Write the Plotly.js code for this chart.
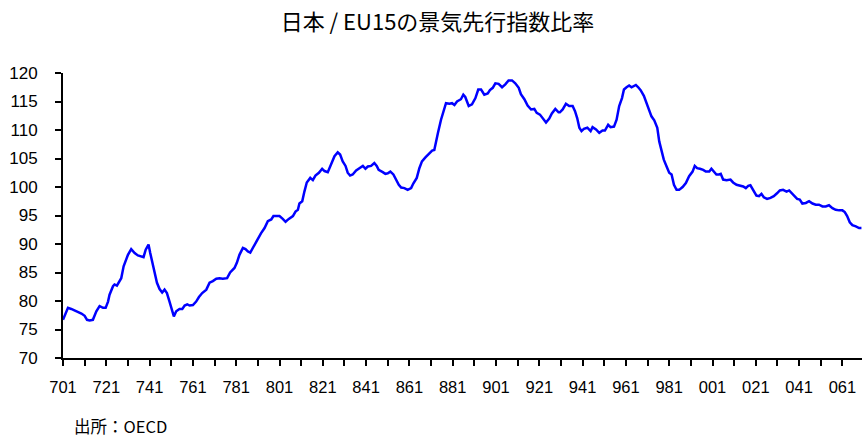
<!DOCTYPE html>
<html>
<head>
<meta charset="utf-8">
<script src="https://cdn.plot.ly/plotly-3.0.1.min.js"></script>
<style>
html,body{margin:0;padding:0;background:#fff;}
#chart{width:862px;height:438px;}
</style>
</head>
<body>
<div id="chart"></div>
<script>
// 時点（年の小数表示）
var t = [
1970.00,1970.23,1970.38,1970.62,1970.85,1971.00,1971.11,1971.23,1971.38,1971.54,1971.69,1971.85,1971.97,
1972.08,1972.15,1972.31,1972.38,1972.49,1972.62,1972.69,1972.80,1972.92,1973.00,1973.15,1973.31,1973.46,
1973.62,1973.72,1973.82,1973.95,1974.03,1974.12,1974.23,1974.34,1974.46,1974.58,1974.69,1974.80,1974.92,
1975.05,1975.12,1975.23,1975.38,1975.51,1975.62,1975.74,1975.85,1976.00,1976.15,1976.28,1976.43,1976.62,
1976.77,1976.92,1977.08,1977.23,1977.38,1977.58,1977.72,1977.92,1978.03,1978.15,1978.31,1978.43,1978.54,
1978.65,1978.77,1978.92,1979.05,1979.15,1979.31,1979.46,1979.62,1979.72,1979.85,
1980.00,1980.15,1980.28,1980.43,1980.62,1980.74,1980.85,1980.92,1981.05,1981.15,1981.26,1981.42,1981.54,
1981.66,1981.82,1981.97,1982.08,1982.23,1982.38,1982.54,1982.69,1982.80,1982.92,1983.05,1983.15,1983.26,
1983.38,1983.54,1983.69,1983.85,1983.97,1984.08,1984.23,1984.38,1984.49,1984.58,1984.77,1984.89,1985.00,
1985.12,1985.26,1985.38,1985.51,1985.62,1985.77,1985.92,1986.08,1986.18,1986.34,1986.46,1986.58,1986.74,
1986.89,1987.05,1987.15,1987.23,1987.32,1987.46,1987.57,1987.69,1987.85,1987.97,1988.08,1988.20,1988.38,
1988.49,1988.58,1988.74,1988.89,1989.05,1989.18,1989.31,1989.46,1989.62,1989.72,1989.85,1989.97,1990.12,
1990.28,1990.43,1990.58,1990.74,1990.89,1991.05,1991.15,1991.31,1991.46,1991.62,1991.77,1991.88,1992.03,
1992.18,1992.31,1992.46,1992.58,1992.74,1992.89,
1992.95,1993.08,1993.23,1993.38,1993.54,1993.65,1993.75,1993.85,1993.95,1994.06,1994.22,1994.37,1994.46,
1994.62,1994.77,1994.92,1995.03,1995.18,1995.29,1995.45,1995.57,1995.69,1995.82,1995.91,1996.03,1996.15,
1996.26,1996.37,1996.46,1996.57,1996.68,1996.83,1996.95,1997.08,1997.18,1997.31,1997.45,1997.54,1997.65,
1997.75,1997.88,1998.00,1998.11,1998.22,1998.34,1998.46,1998.62,1998.77,1998.92,1999.08,1999.18,1999.29,
1999.42,1999.57,1999.69,1999.85,1999.95,2000.06,2000.18,2000.31,2000.38,2000.49,2000.65,2000.83,2000.95,
2001.11,2001.26,2001.42,2001.54,2001.65,2001.75,2001.88,2002.03,2002.15,2002.26,2002.37,2002.52,2002.68,
2002.83,2002.98,2003.11,2003.26,2003.42,2003.54,2003.65,2003.80,2003.91,2004.03,2004.15,2004.31,2004.46,
2004.62,2004.77,2004.92,2005.08,2005.23,2005.38,2005.54,2005.69,2005.85,2006.00,2006.11,2006.22,2006.34,
2006.46,2006.62,2006.77,2006.88
];
// 日本 / EU15 景気先行指数比率
var ratio = [
76.7,78.8,78.6,78.2,77.8,77.4,76.7,76.6,76.7,78.2,79.1,78.8,78.8,
79.9,81.1,82.6,82.9,82.7,83.5,84.0,86.1,87.3,88.1,89.1,88.4,88.0,
87.8,87.7,89.0,89.9,88.4,87.0,84.9,83.2,82.1,81.5,82.0,81.4,79.9,
78.2,77.3,78.2,78.6,78.6,79.2,79.4,79.2,79.3,79.9,80.7,81.4,82.0,
83.2,83.5,83.9,84.0,83.9,84.0,85.0,85.8,86.7,88.1,89.3,89.1,88.7,
88.5,89.3,90.5,91.1,91.9,92.8,94.0,94.3,94.9,94.9,
94.9,94.4,93.9,94.4,94.9,95.7,96.0,97.1,97.5,99.2,100.8,101.6,101.2,
102.0,102.5,103.2,102.8,102.6,103.9,105.4,106.1,105.7,104.5,103.7,102.5,102.0,
102.2,102.9,103.3,103.7,103.2,103.6,103.7,104.2,103.7,103.0,102.6,102.3,102.4,
102.7,102.2,101.2,100.4,99.9,99.8,99.5,99.8,100.6,101.6,103.3,104.5,105.2,
105.8,106.4,106.5,107.7,109.5,111.8,113.3,114.7,114.6,114.7,114.4,115.0,115.4,
116.2,115.8,114.2,114.5,115.6,117.1,117.1,116.2,116.4,117.0,117.4,118.2,118.1,
117.5,118.0,118.7,118.7,118.2,117.4,116.3,115.4,114.3,113.6,113.7,113.0,112.7,
111.9,111.3,112.0,112.9,113.7,113.1,
113.1,113.6,114.6,114.2,114.2,113.3,112.1,110.4,109.8,110.2,110.4,109.8,110.5,
110.1,109.5,109.9,109.9,110.9,110.5,110.6,111.8,114.2,115.6,117.1,117.5,117.8,
117.5,117.8,117.9,117.5,117.0,116.0,114.7,113.6,112.4,111.7,110.4,108.0,106.3,
104.8,103.6,102.5,102.2,100.4,99.5,99.5,100.0,100.7,101.9,102.7,103.7,103.3,
103.2,103.0,102.7,102.7,103.2,102.7,102.2,102.2,102.3,101.3,101.2,101.3,100.8,
100.4,100.3,100.1,99.8,100.2,100.3,99.4,98.5,98.4,98.8,98.2,97.9,98.1,
98.4,98.9,99.4,99.5,99.2,99.4,98.9,98.2,97.9,97.8,97.1,97.2,97.5,
97.1,96.9,96.9,96.6,96.6,96.8,96.3,96.0,95.9,95.9,95.6,94.9,93.8,
93.3,93.1,92.8,92.8
];
// 目盛（毎年1月）とラベル（2年ごと）
var tickYears = [1970,1971,1972,1973,1974,1975,1976,1977,1978,1979,1980,1981,1982,1983,1984,1985,1986,1987,1988,1989,1990,1991,1992,1993,1994,1995,1996,1997,1998,1999,2000,2001,2002,2003,2004,2005,2006];
var tickLabels = ["701","","721","","741","","761","","781","","801","","821","","841","","861","","881","","901","","921","","941","","961","","981","","001","","021","","041","","061"];
var yTicks = [70,75,80,85,90,95,100,105,110,115,120];

var trace = {
  x: t, y: ratio, type: 'scatter', mode: 'lines',
  line: {color: '#0000FF', width: 2.5},
  hoverinfo: 'skip'
};

var layout = {
  width: 862, height: 438,
  margin: {l: 63, r: 0, t: 73, b: 80},
  paper_bgcolor: '#ffffff', plot_bgcolor: '#ffffff',
  showlegend: false,
  title: {
    text: '日本 / EU15の景気先行指数比率',
    x: 437.5/862, xanchor: 'center', xref: 'container',
    y: 1 - 22/438, yanchor: 'middle', yref: 'container',
    font: {family: '"Noto Sans CJK JP", sans-serif', size: 22, color: '#000'}
  },
  xaxis: {
    range: [1970, 1970 + 799/21.65],
    tickmode: 'array', tickvals: tickYears, ticktext: tickLabels,
    ticks: 'outside', ticklen: 6, tickwidth: 2, tickcolor: '#000',
    showline: true, linecolor: '#000', linewidth: 2,
    showgrid: false, zeroline: false,
    ticklabelstandoff: 7,
    tickfont: {family: '"Liberation Sans", Arial, sans-serif', size: 16.5, color: '#000'}
  },
  yaxis: {
    range: [70, 120],
    tickmode: 'array', tickvals: yTicks,
    ticks: 'outside', ticklen: 6, tickwidth: 2, tickcolor: '#000',
    showline: true, linecolor: '#000', linewidth: 2,
    showgrid: false, zeroline: false,
    ticklabelstandoff: 14,
    tickfont: {family: '"Liberation Sans", Arial, sans-serif', size: 17, color: '#000'}
  },
  annotations: [{
    text: '出所：OECD', showarrow: false,
    xref: 'paper', yref: 'paper',
    x: (72 - 63)/799, xanchor: 'left',
    y: (358 - 426)/285, yanchor: 'middle',
    font: {family: '"Noto Sans CJK JP", sans-serif', size: 16.5, color: '#000'}
  }]
};

Plotly.newPlot('chart', [trace], layout, {staticPlot: true, displayModeBar: false});
</script>
</body>
</html>
